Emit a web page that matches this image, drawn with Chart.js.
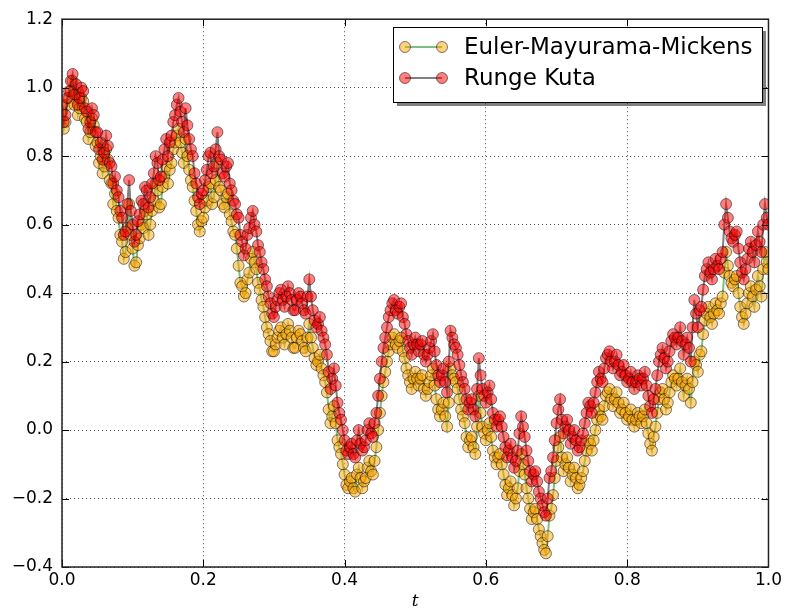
<!DOCTYPE html>
<html>
<head>
<meta charset="utf-8">
<script src="https://cdn.jsdelivr.net/npm/chart.js@4.4.1/dist/chart.umd.min.js"></script>
<style>
  html, body { margin: 0; padding: 0; background: #fff; }
  #wrap { width: 785px; height: 612px; }
</style>
</head>
<body>
<div id="wrap"><canvas id="myChart" width="785" height="612"></canvas></div>
<script>
// time step of both solvers, t runs 0 .. 1
const dt = 0.0025;

const seriesNames = ['Euler-Mayurama-Mickens', 'Runge Kuta'];

// one row = 0.05 of t
const emm = [
  0.93, 0.88, 0.90, 0.95, 0.97, 0.99, 1.02, 0.95, 0.98, 0.92, 0.94, 0.97, 0.96, 0.91, 0.90, 0.85, 0.87, 0.91, 0.89, 0.83,
  0.84, 0.78, 0.80, 0.75, 0.77, 0.82, 0.79, 0.73, 0.72, 0.66, 0.69, 0.64, 0.62, 0.57, 0.55, 0.50, 0.52, 0.59, 0.66, 0.57,
  0.53, 0.48, 0.49, 0.54, 0.56, 0.60, 0.59, 0.64, 0.63, 0.57, 0.60, 0.64, 0.67, 0.72, 0.70, 0.65, 0.66, 0.71, 0.74, 0.77,
  0.72, 0.76, 0.78, 0.82, 0.84, 0.86, 0.88, 0.84, 0.81, 0.78, 0.85, 0.80, 0.76, 0.73, 0.71, 0.67, 0.64, 0.60, 0.58, 0.61,
  0.62, 0.65, 0.67, 0.71, 0.72, 0.66, 0.68, 0.73, 0.78, 0.71, 0.70, 0.66, 0.65, 0.68, 0.69, 0.63, 0.61, 0.58, 0.57, 0.53,
  0.48, 0.43, 0.42, 0.39, 0.40, 0.44, 0.46, 0.50, 0.52, 0.49, 0.47, 0.43, 0.41, 0.38, 0.36, 0.33, 0.30, 0.28, 0.26, 0.23,
  0.23, 0.25, 0.27, 0.29, 0.30, 0.27, 0.25, 0.28, 0.31, 0.29, 0.27, 0.24, 0.24, 0.27, 0.29, 0.28, 0.26, 0.24, 0.23, 0.27,
  0.31, 0.27, 0.24, 0.21, 0.19, 0.20, 0.22, 0.18, 0.16, 0.14, 0.11, 0.06, 0.02, 0.04, 0.07, 0.02, -0.03, -0.05, -0.07, -0.10,
  -0.13, -0.16, -0.17, -0.15, -0.14, -0.17, -0.18, -0.13, -0.11, -0.14, -0.17, -0.15, -0.14, -0.11, -0.09, -0.12, -0.13, -0.09, -0.05, 0.00,
  0.05, 0.10, 0.14, 0.17, 0.20, 0.23, 0.25, 0.27, 0.28, 0.25, 0.24, 0.26, 0.27, 0.23, 0.21, 0.18, 0.16, 0.14, 0.12, 0.15,
  0.17, 0.15, 0.13, 0.15, 0.16, 0.12, 0.10, 0.12, 0.14, 0.16, 0.18, 0.13, 0.09, 0.06, 0.04, 0.06, 0.08, 0.04, 0.01, 0.08,
  0.18, 0.16, 0.15, 0.14, 0.12, 0.09, 0.06, 0.04, 0.02, -0.02, -0.05, -0.03, -0.02, -0.05, -0.07, 0.01, 0.10, 0.05, 0.01, -0.01,
  -0.03, 0.00, 0.02, -0.02, -0.06, -0.08, -0.10, -0.08, -0.07, -0.10, -0.13, -0.16, -0.19, -0.17, -0.15, -0.19, -0.22, -0.20, -0.17, -0.12,
  -0.07, -0.10, -0.13, -0.17, -0.20, -0.23, -0.26, -0.24, -0.23, -0.26, -0.29, -0.31, -0.33, -0.35, -0.36, -0.31, -0.25, -0.23, -0.19, -0.14,
  -0.09, -0.05, -0.02, -0.08, -0.12, -0.10, -0.08, -0.11, -0.15, -0.13, -0.11, -0.14, -0.17, -0.16, -0.14, -0.12, -0.09, -0.06, -0.03, -0.04,
  -0.06, -0.03, 0.00, 0.03, 0.06, 0.04, 0.03, 0.07, 0.10, 0.11, 0.12, 0.09, 0.07, 0.09, 0.11, 0.08, 0.05, 0.06, 0.08, 0.05,
  0.03, 0.04, 0.06, 0.03, 0.01, 0.03, 0.05, 0.04, 0.02, 0.04, 0.06, 0.02, -0.01, -0.04, -0.06, -0.02, 0.01, 0.05, 0.09, 0.11,
  0.12, 0.09, 0.06, 0.08, 0.11, 0.14, 0.16, 0.15, 0.13, 0.15, 0.18, 0.14, 0.10, 0.13, 0.15, 0.12, 0.08, 0.14, 0.20, 0.19,
  0.17, 0.22, 0.23, 0.28, 0.32, 0.34, 0.36, 0.33, 0.31, 0.34, 0.37, 0.35, 0.34, 0.37, 0.39, 0.46, 0.52, 0.48, 0.45, 0.43,
  0.42, 0.44, 0.45, 0.40, 0.36, 0.33, 0.31, 0.34, 0.37, 0.40, 0.42, 0.39, 0.36, 0.41, 0.45, 0.42, 0.39, 0.47, 0.52, 0.49,
  0.47
];

const rk = [
  0.95, 0.90, 0.92, 0.97, 0.99, 1.02, 1.04, 0.98, 1.01, 0.95, 0.97, 1.00, 0.99, 0.94, 0.93, 0.88, 0.90, 0.94, 0.92, 0.87,
  0.87, 0.82, 0.84, 0.79, 0.81, 0.86, 0.83, 0.78, 0.77, 0.72, 0.74, 0.70, 0.68, 0.64, 0.62, 0.57, 0.58, 0.66, 0.73, 0.64,
  0.60, 0.55, 0.57, 0.61, 0.63, 0.67, 0.66, 0.71, 0.70, 0.65, 0.68, 0.72, 0.75, 0.80, 0.78, 0.73, 0.74, 0.79, 0.82, 0.85,
  0.80, 0.84, 0.86, 0.90, 0.92, 0.95, 0.97, 0.93, 0.90, 0.87, 0.94, 0.89, 0.85, 0.82, 0.80, 0.75, 0.72, 0.68, 0.66, 0.69,
  0.70, 0.73, 0.76, 0.80, 0.81, 0.75, 0.77, 0.82, 0.87, 0.80, 0.79, 0.75, 0.74, 0.77, 0.78, 0.72, 0.70, 0.67, 0.66, 0.63,
  0.62, 0.57, 0.55, 0.51, 0.53, 0.57, 0.59, 0.62, 0.64, 0.60, 0.58, 0.54, 0.52, 0.49, 0.47, 0.44, 0.42, 0.39, 0.37, 0.34,
  0.33, 0.36, 0.38, 0.40, 0.41, 0.38, 0.36, 0.39, 0.42, 0.40, 0.38, 0.35, 0.35, 0.38, 0.40, 0.39, 0.37, 0.35, 0.34, 0.39,
  0.44, 0.39, 0.35, 0.32, 0.30, 0.31, 0.33, 0.29, 0.27, 0.25, 0.22, 0.17, 0.12, 0.15, 0.18, 0.13, 0.08, 0.05, 0.03, 0.00,
  -0.03, -0.06, -0.07, -0.05, -0.04, -0.07, -0.08, -0.03, 0.00, -0.04, -0.06, -0.05, -0.03, 0.00, 0.02, -0.01, -0.02, 0.02, 0.05, 0.10,
  0.15, 0.20, 0.24, 0.27, 0.30, 0.33, 0.35, 0.37, 0.38, 0.35, 0.34, 0.36, 0.37, 0.33, 0.31, 0.28, 0.26, 0.24, 0.22, 0.25,
  0.27, 0.25, 0.23, 0.25, 0.26, 0.22, 0.20, 0.22, 0.24, 0.26, 0.28, 0.23, 0.19, 0.16, 0.14, 0.16, 0.18, 0.14, 0.11, 0.20,
  0.29, 0.27, 0.25, 0.24, 0.22, 0.19, 0.16, 0.14, 0.12, 0.09, 0.06, 0.08, 0.09, 0.06, 0.04, 0.12, 0.21, 0.16, 0.12, 0.10,
  0.08, 0.11, 0.13, 0.09, 0.05, 0.03, 0.01, 0.03, 0.04, 0.01, -0.02, -0.05, -0.08, -0.06, -0.04, -0.08, -0.11, -0.09, -0.06, -0.01,
  0.04, 0.01, -0.02, -0.06, -0.09, -0.12, -0.15, -0.13, -0.12, -0.15, -0.18, -0.20, -0.22, -0.24, -0.25, -0.20, -0.14, -0.12, -0.08, -0.03,
  0.02, 0.06, 0.09, 0.03, -0.01, 0.01, 0.03, 0.00, -0.04, -0.02, 0.00, -0.03, -0.06, -0.05, -0.03, -0.01, 0.02, 0.05, 0.08, 0.07,
  0.05, 0.08, 0.11, 0.14, 0.17, 0.15, 0.14, 0.18, 0.21, 0.22, 0.23, 0.20, 0.18, 0.20, 0.22, 0.19, 0.16, 0.17, 0.19, 0.16,
  0.14, 0.15, 0.17, 0.14, 0.12, 0.14, 0.16, 0.15, 0.13, 0.15, 0.17, 0.13, 0.10, 0.07, 0.05, 0.09, 0.12, 0.16, 0.20, 0.22,
  0.24, 0.21, 0.18, 0.20, 0.23, 0.26, 0.28, 0.27, 0.25, 0.27, 0.30, 0.26, 0.22, 0.25, 0.27, 0.24, 0.20, 0.30, 0.38, 0.34,
  0.30, 0.35, 0.36, 0.41, 0.45, 0.47, 0.49, 0.46, 0.44, 0.47, 0.50, 0.48, 0.47, 0.50, 0.52, 0.60, 0.66, 0.62, 0.58, 0.56,
  0.55, 0.57, 0.58, 0.53, 0.49, 0.46, 0.44, 0.47, 0.50, 0.53, 0.55, 0.52, 0.49, 0.54, 0.58, 0.55, 0.52, 0.60, 0.66, 0.62,
  0.60
];

const xTicks = [0.0, 0.2, 0.4, 0.6, 0.8, 1.0];
const yTicks = [-0.4, -0.2, 0.0, 0.2, 0.4, 0.6, 0.8, 1.0, 1.2];

const toPoints = (arr) => arr.map((v, i) => ({ x: i * dt, y: v }));
const fmt = (v) => {
  if (Math.abs(v) < 1e-9) v = 0;
  return v.toFixed(1).replace('-', '\u2212');
};

// matplotlib style frame with inward ticks on all four sides
const frame = {
  id: 'frame',
  afterDatasetsDraw(chart) {
    const c = chart.ctx;
    const a = chart.chartArea;
    const xs = chart.scales.x;
    const ys = chart.scales.y;
    c.save();
    c.strokeStyle = '#000';
    c.lineWidth = 1;
    c.beginPath();
    xTicks.forEach((t) => {
      const px = Math.round(xs.getPixelForValue(t)) + 0.5;
      c.moveTo(px, a.bottom); c.lineTo(px, a.bottom - 7);
      c.moveTo(px, a.top); c.lineTo(px, a.top + 7);
    });
    yTicks.forEach((t) => {
      const py = Math.round(ys.getPixelForValue(t)) + 0.5;
      c.moveTo(a.left, py); c.lineTo(a.left + 7, py);
      c.moveTo(a.right, py); c.lineTo(a.right - 7, py);
    });
    c.stroke();
    c.strokeStyle = '#222';
    c.lineWidth = 1.5;
    c.strokeRect(a.left, a.top, a.right - a.left, a.bottom - a.top);
    c.restore();
  },
};

// legend box with shadow, line + two markers per entry
const legendBox = {
  id: 'legendBox',
  afterDraw(chart) {
    const c = chart.ctx;
    const bx = 393, by = 27, bw = 369, bh = 75;
    c.save();
    c.fillStyle = 'rgba(0,0,0,0.5)';
    c.fillRect(bx + 4, by + 4, bw, bh);
    c.fillStyle = '#fff';
    c.fillRect(bx, by, bw, bh);
    c.strokeStyle = '#000';
    c.lineWidth = 1;
    c.strokeRect(bx + 0.5, by + 0.5, bw, bh);
    const rows = [47, 78];
    [0, 1].forEach((i) => {
      const ds = chart.data.datasets[i];
      const y = rows[i];
      c.strokeStyle = ds.borderColor;
      c.lineWidth = ds.borderWidth;
      c.beginPath();
      c.moveTo(405, y); c.lineTo(442, y);
      c.stroke();
      [405, 442].forEach((x) => {
        c.beginPath();
        c.arc(x, y, ds.pointRadius, 0, Math.PI * 2);
        c.fillStyle = ds.pointBackgroundColor;
        c.fill();
        c.strokeStyle = ds.pointBorderColor;
        c.lineWidth = ds.pointBorderWidth;
        c.stroke();
      });
      c.fillStyle = '#000';
      c.font = '23px "DejaVu Sans"';
      c.textBaseline = 'middle';
      c.textAlign = 'left';
      c.fillText(ds.label, 464, y + 1);
    });
    c.restore();
  },
};

const ctx = document.getElementById('myChart');

new Chart(ctx, {
  type: 'line',
  plugins: [frame, legendBox],
  data: {
    datasets: [
      {
        label: seriesNames[0],
        data: toPoints(emm),
        borderColor: 'rgba(0,128,0,0.5)',
        borderWidth: 2,
        pointBackgroundColor: 'rgba(255,165,0,0.5)',
        pointBorderColor: 'rgba(0,0,0,0.5)',
        pointBorderWidth: 1,
        pointRadius: 5.5,
        tension: 0,
        clip: 0,
        order: 2,
      },
      {
        label: seriesNames[1],
        data: toPoints(rk),
        borderColor: 'rgba(0,0,0,0.5)',
        borderWidth: 2,
        pointBackgroundColor: 'rgba(255,0,0,0.5)',
        pointBorderColor: 'rgba(0,0,0,0.5)',
        pointBorderWidth: 1,
        pointRadius: 5.5,
        tension: 0,
        clip: 0,
        order: 1,
      },
    ],
  },
  options: {
    responsive: false,
    animation: false,
    events: [],
    layout: { padding: { top: 16, right: 12, left: 0, bottom: 0 } },
    plugins: {
      legend: { display: false },
      tooltip: { enabled: false },
    },
    scales: {
      x: {
        type: 'linear',
        min: 0,
        max: 1,
        afterFit: (s) => { s.height = 45; },
        afterBuildTicks: (s) => { s.ticks = xTicks.map((v) => ({ value: v })); },
        grid: {
          color: 'rgba(0,0,0,0.7)',
          drawTicks: false,
        },
        border: { display: false, dash: [1, 3] },
        ticks: {
          padding: 3,
          color: '#000',
          font: { family: 'DejaVu Sans', size: 17 },
          callback: (v) => fmt(v),
          maxRotation: 0,
        },
        title: {
          display: true,
          text: 't',
          color: '#000',
          font: { family: 'DejaVu Serif', style: 'italic', size: 17 },
          padding: { top: 0, bottom: 0 },
        },
      },
      y: {
        type: 'linear',
        min: -0.4,
        max: 1.2,
        afterFit: (s) => { s.width = 62; },
        afterBuildTicks: (s) => { s.ticks = yTicks.map((v) => ({ value: v })); },
        grid: {
          color: 'rgba(0,0,0,0.7)',
          drawTicks: false,
        },
        border: { display: false, dash: [1, 3] },
        ticks: {
          padding: 9,
          color: '#000',
          font: { family: 'DejaVu Sans', size: 17 },
          callback: (v) => fmt(v),
        },
      },
    },
  },
});
</script>
</body>
</html>
